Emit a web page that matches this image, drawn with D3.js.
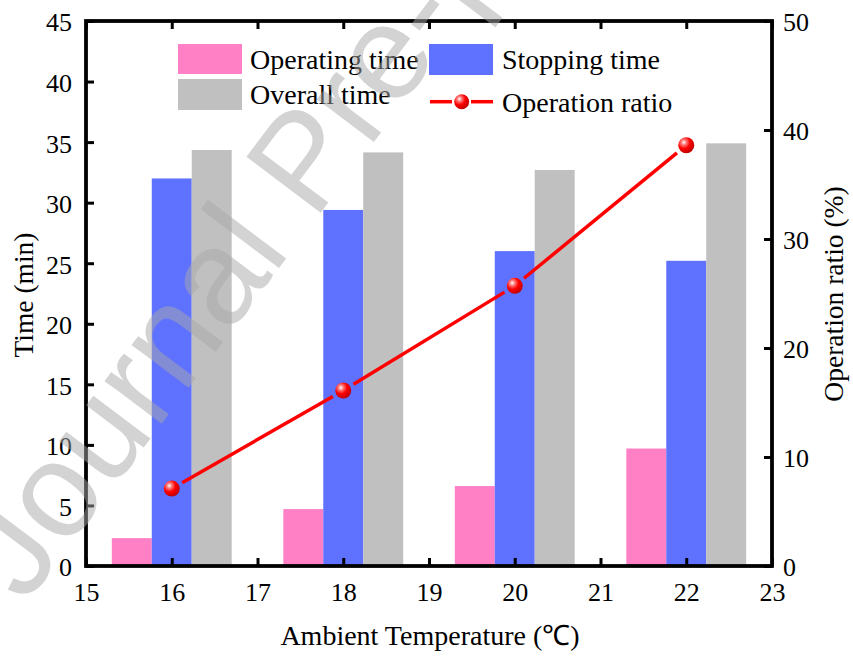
<!DOCTYPE html>
<html><head><meta charset="utf-8">
<script src="https://cdn.jsdelivr.net/npm/d3@7"></script>
<style>body{margin:0;background:#fff}svg{display:block}</style>
</head><body><svg id="c" width="853" height="657"></svg>
<script>
const temps = [16, 18, 20, 22];
const operatingTime = [2.3, 4.7, 6.6, 9.7];
const stoppingTime = [32.0, 29.4, 26.0, 25.2];
const overallTime = [34.35, 34.15, 32.7, 34.9];
const operationRatio = [7.1, 16.1, 25.7, 38.6];
const xTicks = [15, 16, 17, 18, 19, 20, 21, 22, 23];
const yLeftTicks = [0, 5, 10, 15, 20, 25, 30, 35, 40, 45];
const yRightTicks = [0, 10, 20, 30, 40, 50];
const seriesNames = ["Operating time", "Stopping time", "Overall time", "Operation ratio"];
const colors = {op: "#FF80C5", stop: "#5F72FF", all: "#C0C0C0", ratio: "#FF0000"};

const svg = d3.select("#c");
const font = "'Liberation Serif','Times New Roman',serif";
const L = 86, R = 772, T = 21, B = 566;
const x = d3.scaleLinear().domain([15, 23]).range([L, R]);
const yL = d3.scaleLinear().domain([0, 45]).range([B, T]);
const yR = d3.scaleLinear().domain([0, 50]).range([B, T]);
const bw = 0.466;

const defs = svg.append("defs");
const grad = defs.append("radialGradient").attr("id", "ball").attr("cx", "35%").attr("cy", "32%").attr("r", "70%");
grad.append("stop").attr("offset", "0%").attr("stop-color", "#ffffff");
grad.append("stop").attr("offset", "22%").attr("stop-color", "#ff8080");
grad.append("stop").attr("offset", "55%").attr("stop-color", "#ff0000");
grad.append("stop").attr("offset", "100%").attr("stop-color", "#c00000");

// bars
const g = svg.append("g");
function bars(vals, off, col) {
  g.selectAll(null).data(temps).enter().append("rect")
    .attr("x", (d) => x(d + off))
    .attr("width", (d) => x(d + off + bw) - x(d + off))
    .attr("y", (d, i) => yL(vals[i]))
    .attr("height", (d, i) => yL(0) - yL(vals[i]))
    .attr("fill", col);
}
bars(operatingTime, -1.5 * bw, colors.op);
bars(stoppingTime, -0.5 * bw, colors.stop);
bars(overallTime, 0.5 * bw, colors.all);

// line with gaps
const pts = temps.map((t, i) => [x(t), yR(operationRatio[i])]);
const r = 8, gap = 12;
for (let i = 0; i < pts.length - 1; i++) {
  const [x1, y1] = pts[i], [x2, y2] = pts[i + 1];
  const len = Math.hypot(x2 - x1, y2 - y1), ux = (x2 - x1) / len, uy = (y2 - y1) / len;
  svg.append("line").attr("x1", x1 + ux * gap).attr("y1", y1 + uy * gap)
    .attr("x2", x2 - ux * gap).attr("y2", y2 - uy * gap)
    .attr("stroke", colors.ratio).attr("stroke-width", 3.5);
}
svg.selectAll(null).data(pts).enter().append("circle")
  .attr("cx", (d) => d[0]).attr("cy", (d) => d[1]).attr("r", r).attr("fill", "url(#ball)");

// axes
function styleAxis(sel) {
  sel.attr("font-family", font);
  sel.select(".domain").remove();
  sel.selectAll(".tick line").attr("stroke", "#000").attr("stroke-width", 3);
  sel.selectAll(".tick text").attr("font-family", font).attr("font-size", 26).attr("fill", "#000");
}
const ax = svg.append("g").attr("transform", `translate(0,${B})`)
  .call(d3.axisBottom(x).tickValues(xTicks).tickFormat(d3.format("d")).tickSize(-8).tickSizeOuter(0).tickPadding(17));
styleAxis(ax);
const axT = svg.append("g").attr("transform", `translate(0,${T})`)
  .call(d3.axisTop(x).tickValues(xTicks).tickFormat("").tickSize(-8).tickSizeOuter(0));
styleAxis(axT);
const ayl = svg.append("g").attr("transform", `translate(${L},0)`)
  .call(d3.axisLeft(yL).tickValues(yLeftTicks).tickSize(-8).tickSizeOuter(0).tickPadding(14));
styleAxis(ayl);
ayl.selectAll(".tick text").attr("dy", "0.38em");
const ayr = svg.append("g").attr("transform", `translate(${R},0)`)
  .call(d3.axisRight(yR).tickValues(yRightTicks).tickSize(-8).tickSizeOuter(0).tickPadding(11));
styleAxis(ayr);
ayr.selectAll(".tick text").attr("dy", "0.38em");

svg.append("rect").attr("x", L).attr("y", T).attr("width", R - L).attr("height", B - T)
  .attr("fill", "none").attr("stroke", "#000").attr("stroke-width", 3.8);

// axis titles
svg.append("text").attr("x", 430).attr("y", 645).attr("text-anchor", "middle")
  .attr("font-family", font).attr("font-size", 28).text("Ambient Temperature (℃)");
svg.append("text").attr("transform", "translate(33,295) rotate(-90)").attr("text-anchor", "middle")
  .attr("font-family", font).attr("font-size", 27.5).text("Time (min)");
svg.append("text").attr("transform", "translate(843,294) rotate(-90)").attr("text-anchor", "middle")
  .attr("font-family", font).attr("font-size", 27.5).text("Operation ratio (%)");

// legend
const lg = svg.append("g").attr("font-family", font).attr("font-size", 28);
lg.append("rect").attr("x", 178).attr("y", 44).attr("width", 64).attr("height", 30).attr("fill", colors.op);
lg.append("rect").attr("x", 178).attr("y", 79).attr("width", 64).attr("height", 31).attr("fill", colors.all);
lg.append("rect").attr("x", 429).attr("y", 44).attr("width", 64).attr("height", 31).attr("fill", colors.stop);
lg.append("text").attr("x", 250).attr("y", 69).text(seriesNames[0]);
lg.append("text").attr("x", 250).attr("y", 104).text(seriesNames[2]);
lg.append("text").attr("x", 502).attr("y", 69).text(seriesNames[1]);
lg.append("text").attr("x", 502).attr("y", 112).text(seriesNames[3]);
lg.append("line").attr("x1", 430).attr("x2", 452).attr("y1", 101.7).attr("y2", 101.7).attr("stroke", colors.ratio).attr("stroke-width", 3.5);
lg.append("line").attr("x1", 471).attr("x2", 493).attr("y1", 101.7).attr("y2", 101.7).attr("stroke", colors.ratio).attr("stroke-width", 3.5);
lg.append("circle").attr("cx", 461.7).attr("cy", 101.7).attr("r", 7.5).attr("fill", "url(#ball)");

// watermark
svg.append("text").attr("transform", "translate(25,605) rotate(-53)")
  .attr("font-family", "'Liberation Sans',Arial,sans-serif").attr("font-size", 135)
  .attr("fill", "#a8a8a8").attr("fill-opacity", 0.5).text("Journal Pre-proof");
</script></body></html>
